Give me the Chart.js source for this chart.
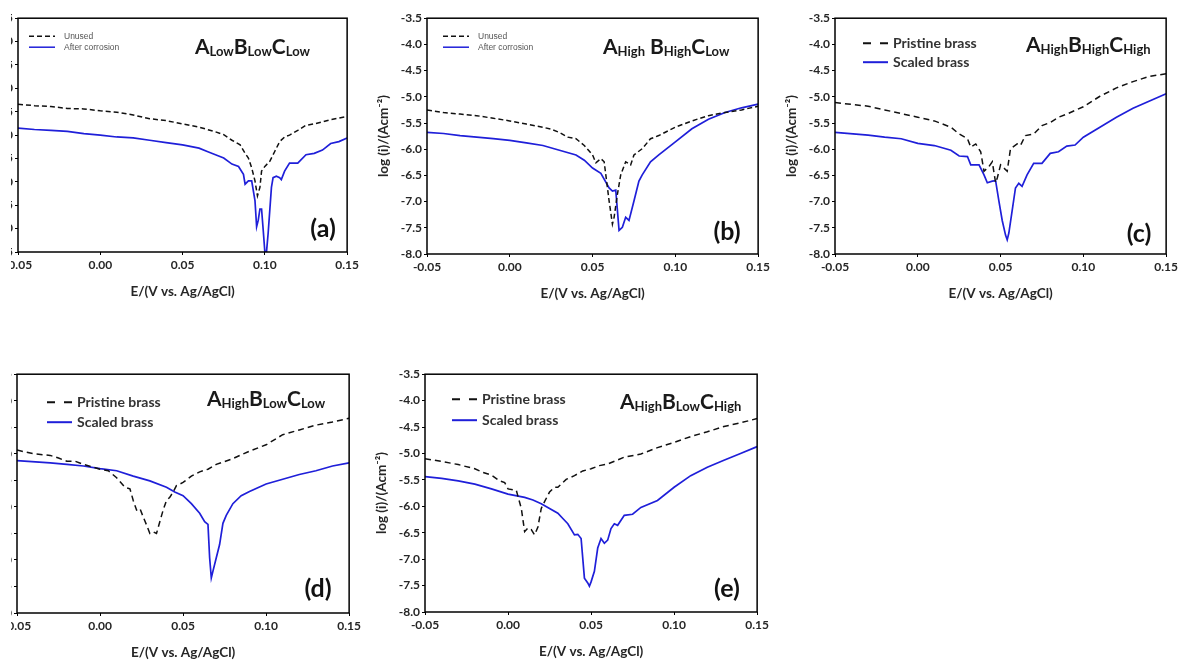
<!DOCTYPE html>
<html>
<head>
<meta charset="utf-8">
<script src="https://cdn.jsdelivr.net/npm/chart.js@4.4.1/dist/chart.umd.min.js"></script>
<style>
  body { margin: 0; background: #fff; width: 1183px; height: 661px; overflow: hidden; position: relative; }
  .panel { position: absolute; overflow: hidden; }
  .panel canvas { position: absolute; top: 0; }
</style>
</head>
<body>
<script>
// ---- data: potential E (V vs Ag/AgCl) and log(i) ----
const aUnusedE = [-0.05,-0.04,-0.03,-0.02,-0.01,0,0.01,0.02,0.03,0.04,0.05,0.06,0.07,0.075,0.08,0.085,0.088,0.09,0.092,0.094,0.0955,0.097,0.098,0.1,0.103,0.106,0.109,0.112,0.115,0.12,0.125,0.13,0.14,0.15];
const aUnusedLog = [-5.34,-5.37,-5.39,-5.43,-5.44,-5.48,-5.51,-5.57,-5.65,-5.69,-5.76,-5.83,-5.93,-5.99,-6.11,-6.21,-6.39,-6.49,-6.7,-6.98,-7.3,-7.12,-6.77,-6.67,-6.56,-6.35,-6.14,-6.04,-6.0,-5.9,-5.79,-5.76,-5.67,-5.6];
const aCorrodedE = [-0.05,-0.04,-0.03,-0.02,-0.01,0,0.01,0.02,0.03,0.04,0.05,0.06,0.065,0.07,0.075,0.08,0.084,0.087,0.088,0.09,0.092,0.094,0.095,0.096,0.097,0.098,0.099,0.1,0.101,0.102,0.104,0.105,0.107,0.109,0.11,0.112,0.115,0.12,0.125,0.13,0.135,0.14,0.145,0.15];
const aCorrodedLog = [-5.85,-5.88,-5.9,-5.92,-5.97,-6.0,-6.04,-6.06,-6.11,-6.16,-6.21,-6.28,-6.35,-6.42,-6.49,-6.62,-6.67,-6.84,-7.05,-6.98,-6.98,-7.4,-7.96,-7.82,-7.58,-7.58,-8.03,-8.5,-8.5,-8.1,-7.12,-6.91,-6.88,-6.91,-6.95,-6.77,-6.6,-6.6,-6.42,-6.39,-6.32,-6.18,-6.14,-6.06];

const bUnusedE = [-0.05,-0.04,-0.03,-0.02,-0.01,0,0.01,0.02,0.025,0.03,0.035,0.04,0.045,0.05,0.052,0.055,0.057,0.06,0.062,0.063,0.065,0.067,0.07,0.073,0.075,0.08,0.085,0.09,0.1,0.11,0.12,0.13,0.14,0.15];
const bUnusedLog = [-5.25,-5.3,-5.33,-5.36,-5.41,-5.46,-5.52,-5.58,-5.62,-5.68,-5.77,-5.8,-5.93,-6.11,-6.26,-6.18,-6.24,-6.99,-7.43,-7.3,-6.86,-6.49,-6.24,-6.3,-6.11,-5.99,-5.8,-5.74,-5.58,-5.46,-5.36,-5.3,-5.25,-5.18];
const bCorrodedE = [-0.05,-0.04,-0.03,-0.02,-0.01,0,0.01,0.02,0.03,0.04,0.045,0.05,0.055,0.06,0.062,0.064,0.066,0.068,0.07,0.072,0.075,0.078,0.08,0.085,0.09,0.1,0.11,0.12,0.13,0.14,0.15];
const bCorrodedLog = [-5.68,-5.7,-5.74,-5.77,-5.8,-5.83,-5.88,-5.93,-6.02,-6.11,-6.21,-6.36,-6.46,-6.74,-6.8,-6.78,-7.55,-7.49,-7.3,-7.36,-6.99,-6.61,-6.49,-6.24,-6.11,-5.86,-5.61,-5.43,-5.3,-5.21,-5.14];

const cPristineE = [-0.05,-0.03,-0.02,0,0.01,0.02,0.025,0.03,0.032,0.035,0.038,0.04,0.043,0.045,0.047,0.048,0.05,0.052,0.054,0.056,0.06,0.062,0.065,0.07,0.075,0.08,0.085,0.09,0.1,0.11,0.12,0.13,0.14,0.15];
const cPristineLog = [-5.11,-5.18,-5.25,-5.39,-5.46,-5.58,-5.71,-5.8,-5.96,-5.9,-6.05,-6.42,-6.33,-6.24,-6.64,-6.55,-6.3,-6.36,-6.42,-5.99,-5.9,-5.93,-5.74,-5.71,-5.55,-5.49,-5.39,-5.33,-5.19,-4.99,-4.83,-4.71,-4.61,-4.56];
const cScaledE = [-0.05,-0.03,-0.02,-0.01,0,0.01,0.02,0.025,0.03,0.032,0.037,0.04,0.042,0.045,0.047,0.049,0.051,0.053,0.054,0.055,0.057,0.059,0.061,0.063,0.066,0.07,0.075,0.08,0.085,0.09,0.095,0.1,0.11,0.12,0.13,0.14,0.15];
const cScaledLog = [-5.68,-5.73,-5.77,-5.8,-5.89,-5.93,-6.02,-6.13,-6.14,-6.3,-6.3,-6.49,-6.64,-6.61,-6.6,-6.99,-7.36,-7.64,-7.73,-7.6,-7.17,-6.74,-6.65,-6.71,-6.49,-6.27,-6.27,-6.08,-6.05,-5.94,-5.92,-5.77,-5.58,-5.39,-5.22,-5.08,-4.94];

const dPristineE = [-0.05,-0.04,-0.03,-0.025,-0.02,-0.015,-0.01,0,0.005,0.01,0.015,0.018,0.02,0.022,0.024,0.026,0.028,0.03,0.032,0.034,0.036,0.038,0.04,0.042,0.044,0.046,0.05,0.055,0.06,0.065,0.07,0.08,0.09,0.1,0.11,0.12,0.13,0.14,0.15];
const dPristineLog = [-4.93,-5.0,-5.03,-5.08,-5.14,-5.14,-5.2,-5.29,-5.32,-5.45,-5.63,-5.66,-5.88,-6.06,-6.03,-6.19,-6.34,-6.5,-6.47,-6.5,-6.28,-6.06,-5.88,-5.82,-5.72,-5.6,-5.54,-5.42,-5.34,-5.29,-5.2,-5.09,-4.95,-4.83,-4.64,-4.55,-4.46,-4.4,-4.33];
const dScaledE = [-0.05,-0.03,-0.02,-0.01,0,0.01,0.02,0.03,0.04,0.045,0.05,0.055,0.06,0.063,0.065,0.066,0.067,0.068,0.07,0.072,0.074,0.076,0.08,0.085,0.09,0.1,0.11,0.12,0.13,0.14,0.15];
const dScaledLog = [-5.13,-5.17,-5.2,-5.23,-5.28,-5.32,-5.42,-5.51,-5.63,-5.72,-5.79,-5.94,-6.12,-6.28,-6.33,-6.96,-7.34,-7.21,-6.96,-6.71,-6.31,-6.16,-5.94,-5.79,-5.71,-5.57,-5.48,-5.39,-5.32,-5.23,-5.17];

const ePristineE = [-0.05,-0.04,-0.03,-0.02,-0.015,-0.01,-0.005,-0.002,0,0.005,0.008,0.01,0.012,0.014,0.016,0.018,0.02,0.022,0.025,0.028,0.03,0.035,0.04,0.045,0.05,0.055,0.06,0.07,0.08,0.09,0.1,0.11,0.12,0.13,0.14,0.15];
const ePristineLog = [-5.1,-5.15,-5.21,-5.29,-5.36,-5.41,-5.52,-5.55,-5.67,-5.7,-6.04,-6.48,-6.41,-6.44,-6.54,-6.39,-6.04,-5.91,-5.73,-5.64,-5.64,-5.49,-5.42,-5.33,-5.29,-5.23,-5.2,-5.07,-5.01,-4.89,-4.79,-4.68,-4.59,-4.49,-4.42,-4.34];
const eScaledE = [-0.05,-0.04,-0.03,-0.02,-0.01,0,0.01,0.015,0.02,0.025,0.03,0.033,0.036,0.04,0.042,0.044,0.046,0.048,0.049,0.05,0.052,0.054,0.056,0.058,0.06,0.062,0.064,0.066,0.07,0.075,0.08,0.09,0.1,0.11,0.12,0.13,0.14,0.15];
const eScaledLog = [-5.44,-5.47,-5.52,-5.58,-5.67,-5.77,-5.83,-5.88,-5.95,-6.04,-6.13,-6.23,-6.33,-6.54,-6.53,-6.61,-7.36,-7.45,-7.51,-7.43,-7.23,-6.79,-6.61,-6.7,-6.64,-6.42,-6.33,-6.36,-6.17,-6.15,-6.02,-5.89,-5.64,-5.42,-5.26,-5.13,-5.0,-4.87];

const E_MIN = -0.05, E_MAX = 0.15;
const LOG_MAX = -3.5;

const BLUE = '#1f1fd9';
const TEXT = '#262626';
Chart.defaults.font.family = 'Lato';

function pts(xs, ys) { return xs.map((x, i) => ({ x: x, y: ys[i] })); }

// layout: page position of each canvas, plot area offsets are fixed by afterFit
const panels = [
  { tag: '(a)', left: -36, top: 9, w: 398, h: 295, clip: 11, yMin: -8.5,
    names: ['Unused', 'After corrosion'], e1: aUnusedE, i1: aUnusedLog, e2: aCorrodedE, i2: aCorrodedLog,
    title: [['A', 'Low', 0], ['B', 'Low', 0], ['C', 'Low', 0]], tx: 177, ty: 36, lx: 305, ly: 211,
    leg: 'small', legX: 11, legY: [18, 29], dash: [5, 3] },
  { tag: '(b)', left: 373, top: 9, w: 400, h: 297, yMin: -8,
    names: ['Unused', 'After corrosion'], e1: bUnusedE, i1: bUnusedLog, e2: bCorrodedE, i2: bCorrodedLog,
    title: [['A', 'High', 5], ['B', 'High', 0], ['C', 'Low', 0]], tx: 176, ty: 36, lx: 300, ly: 214,
    leg: 'small', legX: 16, legY: [18, 29], dash: [5, 3] },
  { tag: '(c)', left: 781, top: 9, w: 400, h: 297, yMin: -8,
    names: ['Pristine brass', 'Scaled brass'], e1: cPristineE, i1: cPristineLog, e2: cScaledE, i2: cScaledLog,
    title: [['A', 'High', 0], ['B', 'High', 0], ['C', 'High', 0]], tx: 191, ty: 34, lx: 304, ly: 216,
    leg: 'big', legX: 28, legY: [25, 44], dash: [6, 4] },
  { tag: '(d)', left: -37, top: 365, w: 401, h: 300, clip: 11, yMin: -8,
    names: ['Pristine brass', 'Scaled brass'], e1: dPristineE, i1: dPristineLog, e2: dScaledE, i2: dScaledLog,
    title: [['A', 'High', 0], ['B', 'Low', 0], ['C', 'Low', 0]], tx: 190, ty: 32, lx: 301, ly: 215,
    leg: 'big', legX: 30, legY: [28, 48], dash: [6, 4] },
  { tag: '(e)', left: 371, top: 365, w: 401, h: 299, yMin: -8,
    names: ['Pristine brass', 'Scaled brass'], e1: ePristineE, i1: ePristineLog, e2: eScaledE, i2: eScaledLog,
    title: [['A', 'High', 0], ['B', 'Low', 0], ['C', 'High', 0]], tx: 195, ty: 35, lx: 302, ly: 215,
    leg: 'big', legX: 27, legY: [25, 46], dash: [6, 4] }
];

function decor(p) {
  return {
    id: 'decor',
    afterDraw(chart) {
      const ctx = chart.ctx, a = chart.chartArea;
      ctx.save();
      ctx.strokeStyle = '#000';
      ctx.lineWidth = 1.5;
      ctx.strokeRect(a.left, a.top, a.right - a.left, a.bottom - a.top);

      // composition label with subscripts
      let x = a.left + p.tx;
      const y = a.top + p.ty;
      ctx.fillStyle = '#1a1a1a';
      ctx.textBaseline = 'alphabetic';
      ctx.textAlign = 'left';
      p.title.forEach(([big, sub, gap]) => {
        ctx.font = 'bold 21px Lato';
        ctx.fillText(big, x, y);
        x += ctx.measureText(big).width;
        ctx.font = 'bold 13px Lato';
        ctx.fillText(sub, x, y + 2);
        x += ctx.measureText(sub).width + gap;
      });

      ctx.font = 'bold 25px Lato';
      ctx.textAlign = 'center';
      ctx.textBaseline = 'middle';
      ctx.fillStyle = '#111';
      ctx.fillText(p.tag, a.left + p.lx, a.top + p.ly);

      // legend
      const small = p.leg === 'small';
      const sampleW = small ? 26 : 25;
      const textGap = small ? 9 : 5;
      chart.data.datasets.forEach((ds, k) => {
        const ly = a.top + p.legY[k];
        const lx = a.left + p.legX;
        ctx.beginPath();
        ctx.setLineDash(k === 0 ? (small ? [5, 3] : [8, 9]) : []);
        ctx.strokeStyle = ds.borderColor;
        ctx.lineWidth = small ? 1.5 : 2;
        ctx.moveTo(lx, ly);
        ctx.lineTo(lx + sampleW, ly);
        ctx.stroke();
        ctx.setLineDash([]);
        ctx.textAlign = 'left';
        ctx.font = small ? '8.5px "Liberation Sans"' : 'bold 14px Lato';
        ctx.fillStyle = small ? '#555' : '#333';
        ctx.fillText(ds.label, lx + sampleW + textGap, ly);
      });
      ctx.restore();
    }
  };
}

function clean(v) { return Math.abs(v) < 1e-9 ? 0 : v; }

panels.forEach(p => {
  const clip = p.clip !== undefined ? p.clip : p.left;
  const wrap = document.createElement('div');
  wrap.className = 'panel';
  wrap.style.left = clip + 'px';
  wrap.style.top = p.top + 'px';
  wrap.style.width = (p.left + p.w - clip) + 'px';
  wrap.style.height = p.h + 'px';
  const cv = document.createElement('canvas');
  cv.width = p.w;
  cv.height = p.h;
  cv.style.left = (p.left - clip) + 'px';
  cv.style.width = p.w + 'px';
  cv.style.height = p.h + 'px';
  wrap.appendChild(cv);
  document.body.appendChild(wrap);

  const tickFont = { family: 'Lato', size: 12, weight: 'bold' };
  const titleFont = { family: 'Lato', size: 13.5, weight: 'bold' };

  new Chart(cv, {
    type: 'scatter',
    data: {
      datasets: [
        { label: p.names[0], data: pts(p.e1, p.i1), showLine: true, borderColor: '#111',
          borderWidth: 1.5, borderDash: p.dash, pointRadius: 0, tension: 0 },
        { label: p.names[1], data: pts(p.e2, p.i2), showLine: true, borderColor: BLUE,
          borderWidth: 1.7, pointRadius: 0, tension: 0 }
      ]
    },
    options: {
      responsive: false,
      animation: false,
      layout: { padding: { left: 0, top: 5, right: 12, bottom: 0 } },
      plugins: { legend: { display: false }, tooltip: { enabled: false } },
      scales: {
        x: {
          type: 'linear', min: E_MIN, max: E_MAX,
          ticks: { stepSize: 0.05, callback: v => clean(v).toFixed(2), font: tickFont, color: TEXT,
                   padding: 3, maxRotation: 0, autoSkip: false },
          grid: { display: true, drawOnChartArea: false, drawTicks: true, tickLength: 3, color: '#000' },
          border: { display: false },
          title: { display: true, text: 'E/(V vs. Ag/AgCl)', font: titleFont, color: TEXT, padding: { top: 4, bottom: 4 } },
          afterFit: s => { s.height = 52; }
        },
        y: {
          type: 'linear', min: p.yMin, max: LOG_MAX,
          ticks: { stepSize: 0.5, callback: v => clean(v).toFixed(1), font: tickFont, color: TEXT, padding: 2 },
          grid: { display: true, drawOnChartArea: false, drawTicks: true, tickLength: 3, color: '#000' },
          border: { display: false },
          title: { display: true, text: 'log (i)/(Acm⁻²)', font: { family: 'Lato', size: 13.5, weight: 'bold' },
                   color: TEXT, padding: { top: 3, bottom: 3 } },
          afterFit: s => { s.width = 54; }
        }
      }
    },
    plugins: [decor(p)]
  });
});
</script>
</body>
</html>
